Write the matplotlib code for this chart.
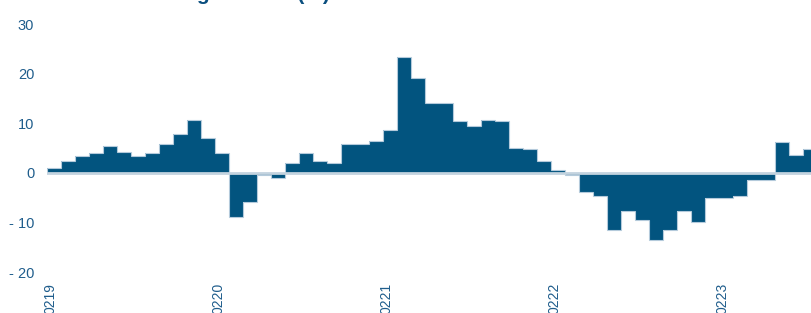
import numpy as np
import matplotlib
matplotlib.use("Agg")
import matplotlib.pyplot as plt
import matplotlib.transforms as mtransforms
from matplotlib.ticker import FuncFormatter

# Monatswerte (%), ab Jan 2019
werte = [1.0, 2.3, 3.4, 3.9, 5.5, 4.2, 3.4, 3.9, 5.9, 7.9, 10.7, 7.0,
         3.9, -9.0, -5.8, -0.4, -1.0, 1.9, 3.9, 2.3, 1.9, 5.9, 5.9, 6.4,
         8.7, 23.3, 19.2, 14.0, 14.0, 10.4, 9.5, 10.7, 10.4, 5.1, 4.7, 2.3,
         0.6, -0.5, -3.8, -4.6, -11.5, -7.8, -9.5, -13.5, -11.5, -7.8, -9.9, -5.0,
         -5.0, -4.6, -1.4, -1.4, 6.3, 3.5, 4.7]
tick_pos = [0, 12, 24, 36, 48]
tick_labels = ["0219", "0220", "0221", "0222", "0223"]
y_ticks = [-20, -10, 0, 10, 20, 30]
titel = "Veränderung des BIP (%)"

blau = "#02547f"
kante = "#b4cadb"
textfarbe = "#1f5d8c"

plt.rcParams['font.family'] = ['Liberation Sans', 'DejaVu Sans']

fig = plt.figure(figsize=(8.11, 3.13), dpi=100)
ax = fig.add_axes([46.7 / 811, 41 / 313, 764 / 811, 248 / 313])

kanten = np.arange(len(werte) + 1) - 0.5
ax.stairs(werte, kanten, baseline=0, fill=True, color=blau, zorder=2)
ax.stairs(werte, kanten, baseline=0, color=kante, lw=0.8, zorder=3)
ax.axhline(0, color="#c3d3df", lw=2.0, zorder=4)

ax.set_xlim(-0.5, 54.07)
ax.set_ylim(-20, 30)
ax.set_yticks(y_ticks)
ax.yaxis.set_major_formatter(FuncFormatter(lambda v, p: f"- {abs(int(v))}" if v < 0 else f"{int(v)}"))
ax.set_xticks(tick_pos)
ax.set_xticklabels(tick_labels, rotation=90, fontsize=10, color=textfarbe, va="top")
ax.tick_params(axis="x", length=0, pad=8)
ax.tick_params(axis="y", length=0, pad=9, labelsize=10.5, labelcolor=textfarbe)
versatz = mtransforms.ScaledTranslation(-3 / 100, 0, fig.dpi_scale_trans)
for lbl in ax.get_xticklabels():
    lbl.set_transform(lbl.get_transform() + versatz)
for s in ax.spines.values():
    s.set_visible(False)

fig.text(82 / 811, 1 + 0.5 / 313, titel, fontsize=15, fontweight="bold",
         color="#0b4f7f", va="baseline", ha="left")

fig.savefig("out.png", dpi=100)
